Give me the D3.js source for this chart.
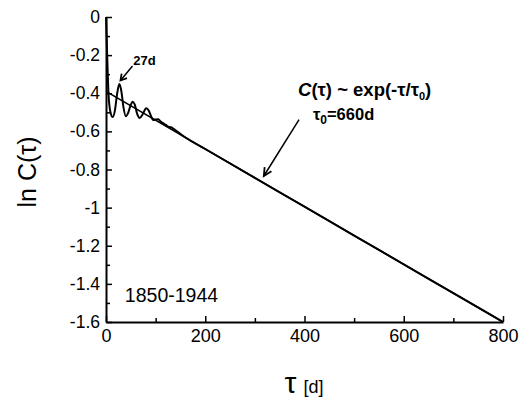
<!DOCTYPE html>
<html>
<head>
<meta charset="utf-8">
<script src="https://cdn.jsdelivr.net/npm/d3@7"></script>
<style>
html,body{margin:0;padding:0;background:#fff;}
svg{display:block;font-family:"Liberation Sans",Arial,sans-serif;}
</style>
</head>
<body>
<svg id="chart" width="526" height="400"></svg>
<script>
// ---- data ----
const tau = [0,2,5,9,13.5,18,22,26.8,31,35,40,45,50,54,58,63,68,74,81,86,90,95,100,105.5,110,115.5,120,125.6,131,136,142,149,160,200,300,400,500,600,700,800];
const lnC = [0,-0.17,-0.4,-0.5,-0.525,-0.49,-0.41,-0.352,-0.39,-0.47,-0.52,-0.5,-0.46,-0.444,-0.46,-0.51,-0.53,-0.51,-0.479,-0.49,-0.515,-0.54,-0.538,-0.537,-0.548,-0.558,-0.565,-0.575,-0.578,-0.586,-0.598,-0.612,-0.632,-0.6925,-0.8438,-0.995,-1.1463,-1.2975,-1.4488,-1.6];
const fitTau = [0,800];
const fitLnC = [-0.39,-1.6];
const xTicks = [0,200,400,600,800];
const xMinor = [100,300,500,700];
const yTicks = [0,-0.2,-0.4,-0.6,-0.8,-1,-1.2,-1.4,-1.6];
const yMinor = [-0.1,-0.3,-0.5,-0.7,-0.9,-1.1,-1.3,-1.5];

// ---- layout ----
const svg = d3.select("#chart");
const m = {left:106, top:17};
const W = 397, H = 305;
const x = d3.scaleLinear().domain([0,800]).range([0,W]);
const y = d3.scaleLinear().domain([0,-1.6]).range([0,H]);
const g = svg.append("g").attr("transform",`translate(${m.left},${m.top})`);

const fmt = d => String(+(+d).toFixed(1));

// axes
const gx = g.append("g").attr("transform",`translate(0,${H})`)
  .call(d3.axisBottom(x).tickValues(xTicks).tickSize(-6).tickSizeOuter(0).tickPadding(7).tickFormat(fmt));
g.append("g").attr("transform",`translate(0,${H})`)
  .call(d3.axisBottom(x).tickValues(xMinor).tickSize(-4).tickSizeOuter(0).tickFormat(""))
  .select(".domain").remove();
const gy = g.append("g")
  .call(d3.axisLeft(y).tickValues(yTicks).tickSize(-6).tickSizeOuter(0).tickPadding(6).tickFormat(fmt));
g.append("g")
  .call(d3.axisLeft(y).tickValues(yMinor).tickSize(-4).tickSizeOuter(0).tickFormat(""))
  .select(".domain").remove();

svg.selectAll(".domain").attr("stroke","#000").attr("stroke-width",2);
svg.selectAll(".tick line").attr("stroke","#000").attr("stroke-width",1.5);
gx.selectAll("text").attr("font-size",18).attr("fill","#000").attr("font-family","Liberation Sans, Arial, sans-serif");
gy.selectAll("text").attr("font-size",17.5).attr("fill","#000").attr("font-family","Liberation Sans, Arial, sans-serif");

// fit line
const fitData = fitTau.map((t,i)=>[t,fitLnC[i]]);
g.append("path").datum(fitData)
  .attr("d", d3.line().x(d=>x(d[0])).y(d=>y(d[1])))
  .attr("fill","none").attr("stroke","#000").attr("stroke-width",1.6);

// data curve
const data = tau.map((t,i)=>[t,lnC[i]]);
g.append("path").datum(data)
  .attr("d", d3.line().x(d=>x(d[0])).y(d=>y(d[1])).curve(d3.curveMonotoneX))
  .attr("fill","none").attr("stroke","#000").attr("stroke-width",2).attr("stroke-linejoin","round");

// arrows
function arrow(t0,v0,t1,v1,len,w){
  const x0=x(t0),y0=y(v0),x1=x(t1),y1=y(v1);
  const a=Math.atan2(y1-y0,x1-x0);
  g.append("line").attr("x1",x0).attr("y1",y0).attr("x2",x1).attr("y2",y1)
    .attr("stroke","#000").attr("stroke-width",1.5);
  const p1=[x1-len*Math.cos(a)+w*Math.sin(a), y1-len*Math.sin(a)-w*Math.cos(a)];
  const p2=[x1-len*Math.cos(a)-w*Math.sin(a), y1-len*Math.sin(a)+w*Math.cos(a)];
  g.append("path").attr("d",`M${p1}L${x1},${y1}L${p2}`)
    .attr("fill","none").attr("stroke","#000").attr("stroke-width",1.8);
}
arrow(53.4,-0.257,29.2,-0.333,6,3.5);
arrow(389,-0.538,318,-0.834,8,4);

// annotations
g.append("text").attr("x",x(55)).attr("y",y(-0.252))
  .attr("font-size",13).attr("font-weight","bold").text("27d");

const f = g.append("text").attr("x",x(387)).attr("y",y(-0.414))
  .attr("font-size",18.5).attr("font-weight","bold");
f.append("tspan").attr("font-style","italic").text("C");
f.append("tspan").text("(τ) ~ exp(-τ/τ");
f.append("tspan").attr("font-size",11).attr("dy",4).text("0");
f.append("tspan").attr("dy",-4).text(")");

const t0 = g.append("text").attr("x",x(417)).attr("y",y(-0.54))
  .attr("font-size",16.5).attr("font-weight","bold");
t0.append("tspan").text("τ");
t0.append("tspan").attr("font-size",12).attr("dy",4).text("0");
t0.append("tspan").attr("dy",-4).text("=660d");

g.append("text").attr("x",x(38)).attr("y",y(-1.494))
  .attr("font-size",19.5).text("1850-1944");

// axis titles
svg.append("text").attr("transform","translate(36,172) rotate(-90)")
  .attr("text-anchor","middle").attr("font-size",25).text("ln C(τ)");
const xl = svg.append("text").attr("x",304).attr("y",393).attr("text-anchor","middle");
xl.append("tspan").attr("font-size",30).text("τ");
xl.append("tspan").attr("font-size",18).attr("dx",7).text("[d]");
</script>
</body>
</html>
